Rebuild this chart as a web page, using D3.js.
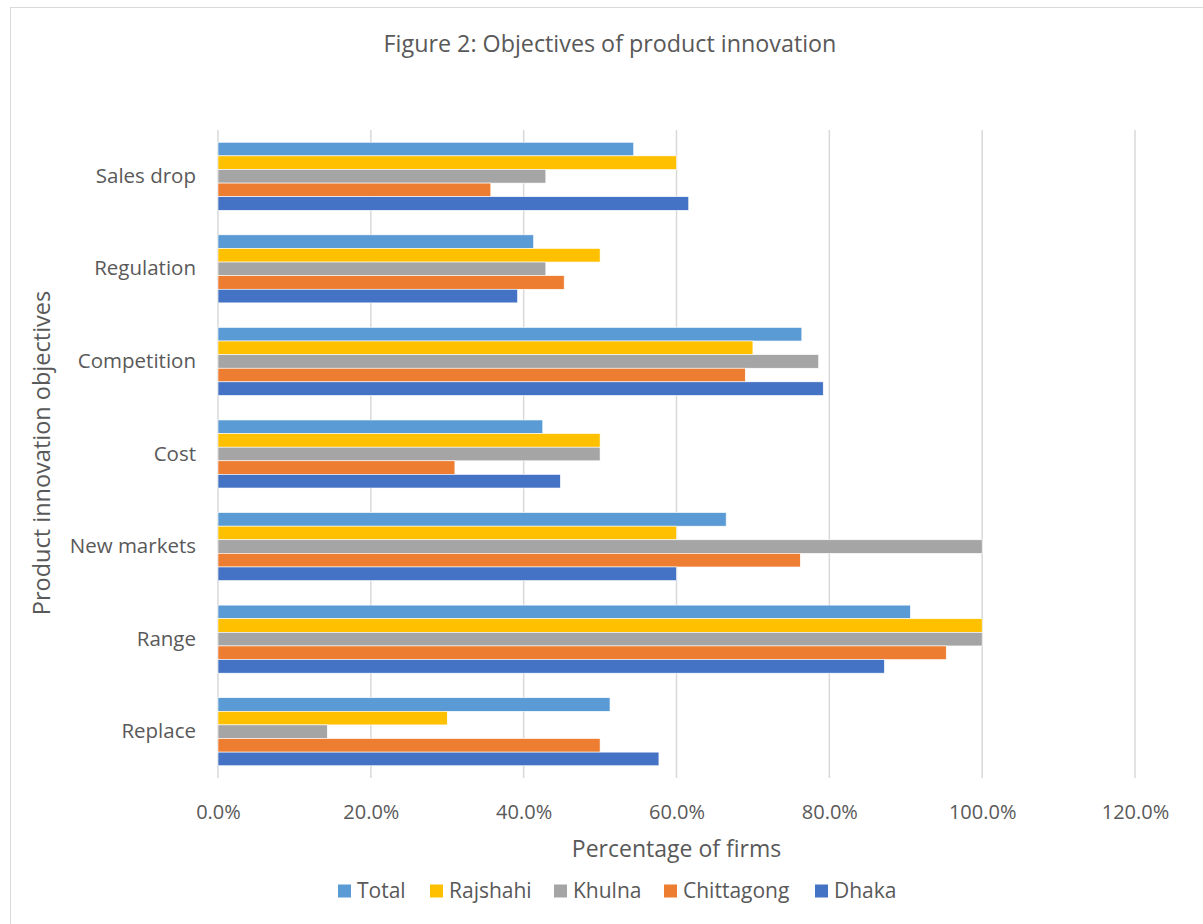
<!DOCTYPE html>
<html>
<head>
<meta charset="utf-8">
<script src="https://cdn.jsdelivr.net/npm/d3@7"></script>
<style>
  html, body { margin: 0; padding: 0; background: #ffffff; }
  svg { display: block; }
  text { font-family: "Open Sans", "Noto Sans", sans-serif; fill: #595959; }
</style>
</head>
<body>
<svg id="chart" width="1203" height="924"></svg>
<script>
// Objectives (bottom to top as listed in the sheet)
const categories = ["Replace", "Range", "New markets", "Cost", "Competition", "Regulation", "Sales drop"];
// Series, drawn top to bottom inside each group
const seriesNames = ["Total", "Rajshahi", "Khulna", "Chittagong", "Dhaka"];
const seriesColors = ["#5b9bd5", "#ffc000", "#a5a5a5", "#ed7d31", "#4472c4"];
// Share of firms (%) per objective, in the order of `categories`
const total      = [51.3, 90.6, 66.5, 42.5, 76.4, 41.3, 54.4];
const rajshahi   = [30.0, 100.0, 60.0, 50.0, 70.0, 50.0, 60.0];
const khulna     = [14.3, 100.0, 100.0, 50.0, 78.6, 42.9, 42.9];
const chittagong = [50.0, 95.3, 76.2, 31.0, 69.0, 45.3, 35.7];
const dhaka      = [57.7, 87.2, 60.0, 44.8, 79.2, 39.2, 61.6];
const xTicks = [0, 20, 40, 60, 80, 100, 120];

const seriesValues = [total, rajshahi, khulna, chittagong, dhaka];

const svg = d3.select("#chart");
const W = 1203, H = 924;

// chart frame
svg.append("rect")
  .attr("x", 10.5).attr("y", 7.5)
  .attr("width", W + 10).attr("height", H + 10)
  .attr("fill", "#ffffff").attr("stroke", "#d9d9d9").attr("stroke-width", 1);

const plot = { left: 218, right: 1135, top: 130, bottom: 778 };

const x = d3.scaleLinear().domain([0, 120]).range([plot.left, plot.right]);
// top of the plot holds the last category
const y = d3.scaleBand()
  .domain(categories.slice().reverse())
  .range([plot.top, plot.bottom])
  .paddingInner(0.265).paddingOuter(0.1325);
const ySeries = d3.scaleBand().domain(seriesNames).range([0, y.bandwidth()]);

// vertical gridlines
svg.append("g")
  .selectAll("line")
  .data(xTicks)
  .join("line")
  .attr("x1", d => x(d)).attr("x2", d => x(d))
  .attr("y1", plot.top).attr("y2", plot.bottom)
  .attr("stroke", "#d9d9d9").attr("stroke-width", 1.5);

// bars
const groups = svg.append("g")
  .selectAll("g")
  .data(categories)
  .join("g")
  .attr("transform", d => `translate(0,${y(d)})`);

groups.selectAll("rect")
  .data((cat, ci) => seriesNames.map((s, si) => ({ s, si, v: seriesValues[si][ci] })))
  .join("rect")
  .attr("x", x(0))
  .attr("y", d => ySeries(d.s))
  .attr("width", d => x(d.v) - x(0))
  .attr("height", ySeries.bandwidth())
  .attr("fill", d => seriesColors[d.si])
  .attr("stroke", "#ffffff").attr("stroke-width", 0.6);

// x axis tick labels
const xAxis = d3.axisBottom(x)
  .tickValues(xTicks)
  .tickFormat(d => d.toFixed(1) + "%")
  .tickSize(0).tickPadding(0);
const gx = svg.append("g")
  .attr("transform", `translate(0,${plot.bottom + 41})`)
  .call(xAxis);
gx.select(".domain").remove();
gx.selectAll("text")
  .attr("font-size", 20).attr("fill", "#595959")
  .attr("dy", "0")
  .style("font-family", '"Open Sans", sans-serif');

// category labels
const yAxis = d3.axisLeft(y).tickSize(0).tickPadding(22);
const gy = svg.append("g")
  .attr("transform", `translate(${plot.left},0)`)
  .call(yAxis);
gy.select(".domain").remove();
gy.selectAll("text")
  .attr("font-size", 20.5).attr("fill", "#595959")
  .style("font-family", '"Open Sans", sans-serif');

// title
svg.append("text")
  .attr("x", 610).attr("y", 52)
  .attr("text-anchor", "middle")
  .attr("font-size", 23.3)
  .text("Figure 2: Objectives of product innovation");

// axis titles
svg.append("text")
  .attr("x", x(60)).attr("y", 857)
  .attr("text-anchor", "middle")
  .attr("font-size", 23)
  .text("Percentage of firms");

svg.append("text")
  .attr("transform", `translate(50,${(plot.top + plot.bottom) / 2 - 1}) rotate(-90)`)
  .attr("text-anchor", "middle")
  .attr("font-size", 23.5)
  .text("Product innovation objectives");

// legend
const legendX = [338, 430, 554, 664, 815];
const legend = svg.append("g")
  .selectAll("g")
  .data(seriesNames)
  .join("g")
  .attr("transform", (d, i) => `translate(${legendX[i]},891)`);
legend.append("rect")
  .attr("x", 0).attr("y", -6.5)
  .attr("width", 13).attr("height", 13)
  .attr("fill", (d, i) => seriesColors[i]);
legend.append("text")
  .attr("x", 19).attr("y", 0)
  .attr("dy", "0.35em")
  .attr("font-size", 21)
  .text(d => d);
</script>
</body>
</html>
